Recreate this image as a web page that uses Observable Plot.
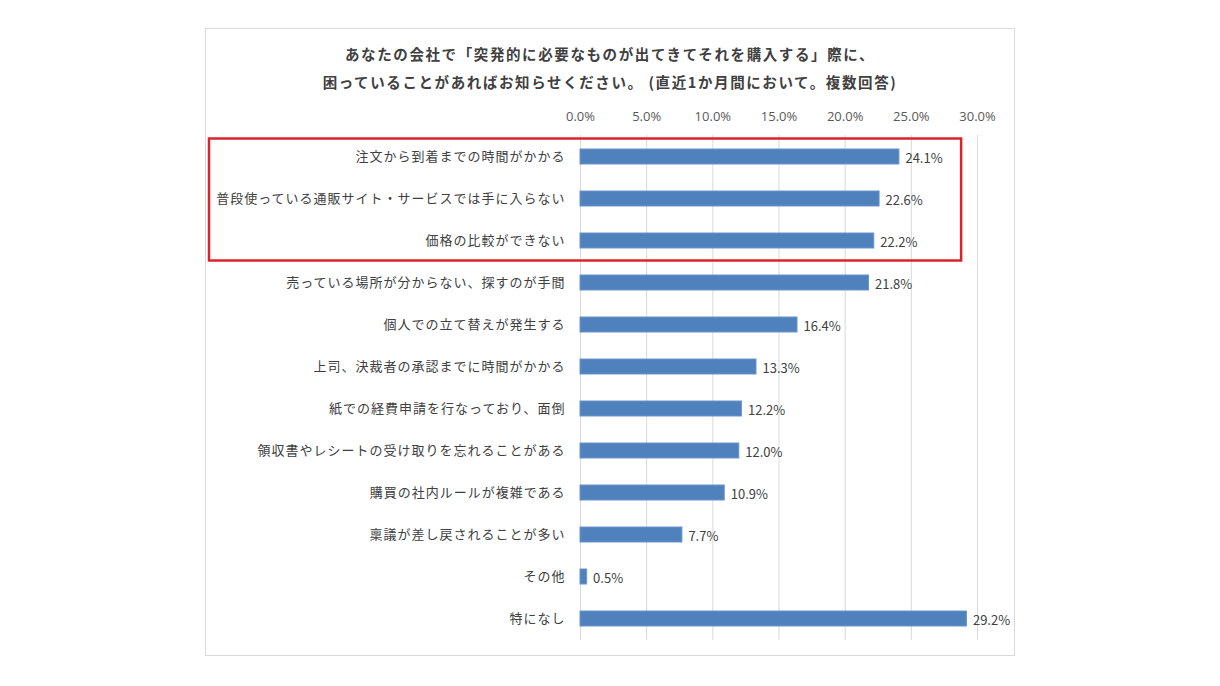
<!DOCTYPE html>
<html><head><meta charset="utf-8">
<script src="https://cdn.jsdelivr.net/npm/d3@7"></script>
<script src="https://cdn.jsdelivr.net/npm/@observablehq/plot@0.6"></script>
<style>
body{margin:0;background:#fff;font-family:"Noto Sans CJK JP","Noto Sans",sans-serif;}
#box{position:absolute;left:205px;top:28px;width:808px;height:626px;border:1px solid #d9d9d9;background:#fff;overflow:hidden;}
#title{position:absolute;left:0;top:11px;width:808px;text-align:center;font-size:14.5px;letter-spacing:1.6px;font-weight:bold;color:#404040;line-height:28px;}
#chart{position:absolute;left:0;top:71px;}
</style></head>
<body>
<div id="box">
<div id="title">あなたの会社で「突発的に必要なものが出てきてそれを購入する」際に、<br>困っていることがあればお知らせください。 (直近1か月間において。複数回答)</div>
<div id="chart"></div>
</div>
<script>
const categories = [
 "注文から到着までの時間がかかる",
 "普段使っている通販サイト・サービスでは手に入らない",
 "価格の比較ができない",
 "売っている場所が分からない、探すのが手間",
 "個人での立て替えが発生する",
 "上司、決裁者の承認までに時間がかかる",
 "紙での経費申請を行なっており、面倒",
 "領収書やレシートの受け取りを忘れることがある",
 "購買の社内ルールが複雑である",
 "稟議が差し戻されることが多い",
 "その他",
 "特になし"
];
const values = [24.1, 22.6, 22.2, 21.8, 16.4, 13.3, 12.2, 12.0, 10.9, 7.7, 0.5, 29.2];
const xTicks = [0, 5, 10, 15, 20, 25, 30];
const highlighted = ["注文から到着までの時間がかかる", "普段使っている通販サイト・サービスでは手に入らない", "価格の比較ができない"];

const data = categories.map((c, i) => ({cat: c, value: values[i]}));
const fmt = v => v.toFixed(1) + "%";

const highlightBox = Plot.barX([0], {
  x: () => 0,
  render: (index, scales) => {
    const y = scales.y;
    const bw = y.bandwidth();
    const step = y.step();
    const top = y(highlighted[0]) - (step - bw) / 2 + 3;
    const bottom = y(highlighted[highlighted.length - 1]) + bw + (step - bw) / 2 - 1;
    const g = d3.create("svg:g");
    g.append("rect")
      .attr("x", 3)
      .attr("y", top)
      .attr("width", scales.x(28.8) - 3)
      .attr("height", bottom - top)
      .attr("fill", "none")
      .attr("stroke", "#d9252a")
      .attr("stroke-width", 2.5);
    return g.node();
  }
});

const chart = Plot.plot({
  width: 808,
  height: 553,
  marginTop: 35,
  marginBottom: 13,
  marginLeft: 374,
  marginRight: 37,
  style: {fontFamily: '"Noto Sans CJK JP","Noto Sans",sans-serif', fontSize: "13px", color: "#404040", background: "white"},
  x: {domain: [0, 30], label: null},
  y: {domain: categories, paddingInner: 0.65, paddingOuter: 0.325, label: null},
  marks: [
    Plot.gridX(xTicks, {stroke: "#d9d9d9", strokeOpacity: 1}),
    Plot.axisX(xTicks, {anchor: "top", tickFormat: fmt, tickSize: 0, tickPadding: 15, fill: "#595959", fontSize: 13, fontFamily: '"Open Sans",sans-serif'}),
    Plot.axisY({tickSize: 0, tickPadding: 15, fill: "#404040", fontSize: 13}),
    Plot.barX(data, {y: "cat", x: "value", fill: "#4f81bd", stroke: "#6a96cc", strokeWidth: 1}),
    Plot.text(data, {y: "cat", x: "value", text: d => fmt(d.value), textAnchor: "start", dx: 6, dy: 2, fill: "#404040", fontSize: 13}),
    highlightBox
  ]
});
chart.querySelectorAll('[aria-label="y-axis tick label"] text').forEach(t => t.setAttribute("letter-spacing", "1px"));
document.getElementById("chart").appendChild(chart);
</script>
</body></html>
